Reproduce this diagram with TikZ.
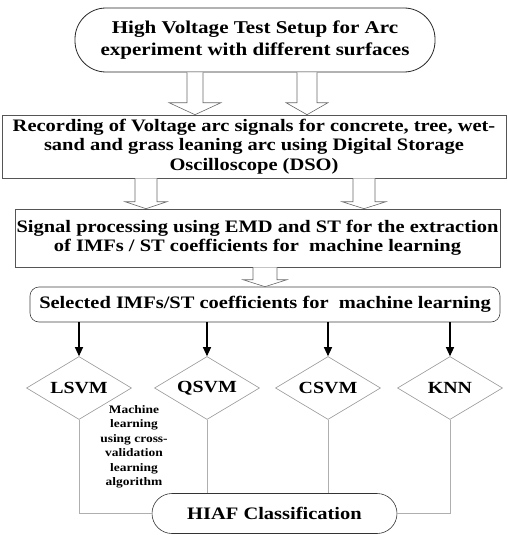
\documentclass[tikz,border=0pt]{standalone}
\usepackage{fontspec}
\setmainfont{Liberation Serif}[FakeStretch=1.17]
\usepackage{tikz}
\usetikzlibrary{shapes.geometric, arrows.meta, calc, positioning}
\definecolor{boxgray}{RGB}{85,85,85}
\definecolor{diagray}{RGB}{150,150,150}
\definecolor{linegray}{RGB}{175,175,175}
\definecolor{hollowgray}{RGB}{105,105,105}

% hollow block arrow: from node, to node, x, shaft half width, head half width, head length
\newcommand{\hollowarrow}[6]{%
  \draw[hollow] ({#3-#4},0 |- #1.south) -- ($({#3-#4},0 |- #2.north)+(0,-#6)$)
    -- ($({#3-#5},0 |- #2.north)+(0,-#6)$) -- (#3,0 |- #2.north)
    -- ($({#3+#5},0 |- #2.north)+(0,-#6)$) -- ($({#3+#4},0 |- #2.north)+(0,-#6)$)
    -- ({#3+#4},0 |- #1.south);}

\begin{document}
\begin{tikzpicture}[
    x=1pt, y=-1pt,
    txt/.style={font=\bfseries\fontsize{17.5}{19.5}\selectfont, align=center, inner sep=0pt},
    stadium/.style={txt, draw=black!85, thick, rounded corners=31pt, minimum width=360pt, minimum height=64pt},
    box/.style={txt, draw=boxgray, semithick},
    algo/.style={diamond, draw=diagray, semithick, aspect=1.67, minimum width=105pt, minimum height=63pt,
        inner sep=0pt, font=\bfseries\fontsize{17}{19}\selectfont},
    arrow/.style={-{Triangle[length=9pt, width=8pt]}, very thick, black},
    link/.style={draw=linegray, semithick},
    hollow/.style={draw=hollowgray, semithick, fill=white, line join=miter},
    note/.style={font=\bfseries\fontsize{11.5}{14.5}\selectfont, align=center, inner sep=0pt}
]
    \useasboundingbox (0,0) rectangle (507,535);

    % Nodes
    \node[stadium, font=\bfseries\fontsize{18}{22}\selectfont] (setup) at (255,40)
        {High Voltage Test Setup for Arc\\experiment with different surfaces};
    \node[box, minimum width=504pt, minimum height=63pt] (rec) at (254,146.5)
        {Recording of Voltage arc signals for concrete, tree, wet-\\sand and grass leaning arc using Digital Storage\\Oscilloscope (DSO)};
    \node[box, minimum width=485pt, minimum height=58pt] (sig) at (257.5,238)
        {Signal processing using EMD and ST for the extraction\\of IMFs / ST coefficients for\ \ machine learning};
    \node[box, draw=black!75, rounded corners=9pt, minimum width=470pt, minimum height=35pt] (sel) at (265,304.5)
        {Selected IMFs/ST coefficients for\ \ machine learning};

    \node[algo] (lsvm) at (79,388) {LSVM};
    \node[algo] (qsvm) at (207,388) {QSVM};
    \node[algo] (csvm) at (328,388) {CSVM};
    \node[algo] (knn) at (450,388) {KNN};

    \node[txt, draw=black!80, semithick, rounded corners=20pt, minimum width=245pt, minimum height=40pt,
        font=\bfseries\fontsize{17.5}{19.5}\selectfont] (hiaf) at (274.5,513.5) {HIAF Classification};

    \node[note] (ml) at (134,447) {Machine\\learning\\using cross-\\validation\\learning\\algorithm};

    % Block arrows
    \hollowarrow{setup}{rec}{195}{8}{26}{12}
    \hollowarrow{setup}{rec}{307}{10}{21}{12}
    \hollowarrow{rec}{sig}{146}{11}{21}{7}
    \hollowarrow{rec}{sig}{364}{11}{22}{7}
    \hollowarrow{sig}{sel}{265}{12}{22}{7}

    % Arrows to the classifiers
    \foreach \m in {lsvm, qsvm, csvm, knn}
        \draw[arrow] (\m.north |- sel.south) -- (\m.north);

    % Links to the classification
    \draw[link] (lsvm.south) |- (hiaf.west);
    \draw[link] (qsvm.south) -- (qsvm.south |- hiaf.north);
    \draw[link] (csvm.south) -- (csvm.south |- hiaf.north);
    \draw[link] (knn.south) |- (hiaf.east);
\end{tikzpicture}
\end{document}
